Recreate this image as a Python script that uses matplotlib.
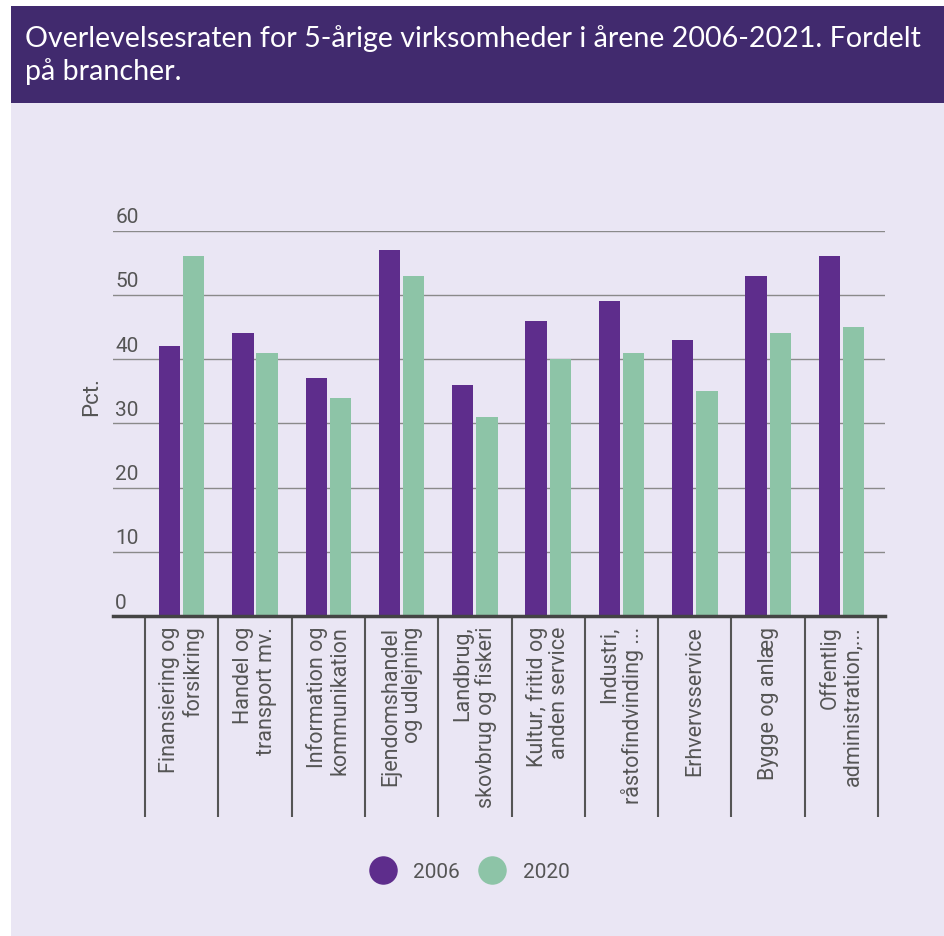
import matplotlib
matplotlib.use("Agg")
import matplotlib.pyplot as plt
import matplotlib.patches as mpatches
from matplotlib.lines import Line2D
import numpy as np

categories = [
    "Finansiering og\nforsikring",
    "Handel og\ntransport mv.",
    "Information og\nkommunikation",
    "Ejendomshandel\nog udlejning",
    "Landbrug,\nskovbrug og fiskeri",
    "Kultur, fritid og\nanden service",
    "Industri,\nråstofindvinding ...",
    "Erhvervsservice",
    "Bygge og anlæg",
    "Offentlig\nadministration,...",
]
values_2006 = [42, 44, 37, 57, 36, 46, 49, 43, 53, 56]
values_2020 = [56, 41, 34, 53, 31, 40, 41, 35, 44, 45]
series_names = ["2006", "2020"]
yticks = [0, 10, 20, 30, 40, 50, 60]
title = "Overlevelsesraten for 5-årige virksomheder i årene 2006-2021. Fordelt\npå brancher."

C_2006 = "#5E2D8C"
C_2020 = "#8DC4A7"
BANNER = "#412A6E"
BG = "#EAE6F4"
TXT = "#555555"

W, H = 945, 937
fig = plt.figure(figsize=(W / 100, H / 100), dpi=100)
fig.patch.set_facecolor("white")

# background panel
fig.patches.append(mpatches.Rectangle((11 / W, 0), 1 - 11 / W, 1 - 104 / H,
                                      transform=fig.transFigure, facecolor=BG,
                                      edgecolor="none", zorder=-10))
# banner
fig.patches.append(mpatches.Rectangle((11 / W, 1 - 104 / H), 1 - 11 / W, 97 / H,
                                      transform=fig.transFigure, facecolor=BANNER,
                                      edgecolor="none", zorder=-10))
fig.text(25 / W, 1 - 55 / H, title, color="white", fontsize=20.6,
         family="Lato", ha="left", va="center", linespacing=1.3)

ax_left, ax_right = 113 / W, 885 / W
ax_bottom, ax_top = 1 - 617 / H, 1 - 231.7 / H
ax = fig.add_axes([ax_left, ax_bottom, ax_right - ax_left, ax_top - ax_bottom])
ax.set_facecolor("none")

x = np.arange(len(categories))
bw = 0.29
off = 0.165
ax.bar(x - off, values_2006, bw, color=C_2006, zorder=3)
ax.bar(x + off, values_2020, bw, color=C_2020, zorder=3)

ax.set_xlim(-0.937, 9.595)
ax.set_ylim(0, 60)

for s in ["top", "right", "left"]:
    ax.spines[s].set_visible(False)
ax.spines["bottom"].set_color("#444444")
ax.spines["bottom"].set_linewidth(2.5)
ax.spines["bottom"].set_zorder(4)

ax.set_yticks(yticks)
ax.set_yticklabels([])
ax.tick_params(axis="y", length=0)
for v in yticks:
    if v > 0:
        ax.axhline(v, color="#8a8a8a", lw=1, zorder=1)
    ax.text(0.003, v + 0.7, str(v), transform=ax.get_yaxis_transform(),
            ha="left", va="bottom", fontsize=15, color=TXT, family="Roboto")

ax.set_xticks(x)
ax.set_xticklabels(categories, rotation=90, ha="center", va="top",
                   multialignment="right", fontsize=15.5, color=TXT,
                   family="Roboto", linespacing=1.1)
ax.tick_params(axis="x", which="major", length=0, pad=7)
ax.set_xticks(np.arange(-0.5, len(categories), 1.0), minor=True)
ax.tick_params(axis="x", which="minor", length=145, width=1.5, color="#555555")

fig.text(92 / W, 1 - 397 / H, "Pct.", rotation=90, ha="center", va="center",
         fontsize=16, color=TXT, family="Roboto")

handles = [Line2D([0], [0], marker="o", ls="", markersize=19.5, color=c)
           for c in (C_2006, C_2020)]
leg = fig.legend(handles, series_names, loc="center", bbox_to_anchor=(469 / W, 1 - 873 / H),
                 ncol=2, frameon=False, handletextpad=0.75, handlelength=1.4,
                 columnspacing=0.85, prop={"family": "Roboto", "size": 15})
for t in leg.get_texts():
    t.set_color(TXT)

fig.savefig("out.png", dpi=100, facecolor=fig.get_facecolor())
